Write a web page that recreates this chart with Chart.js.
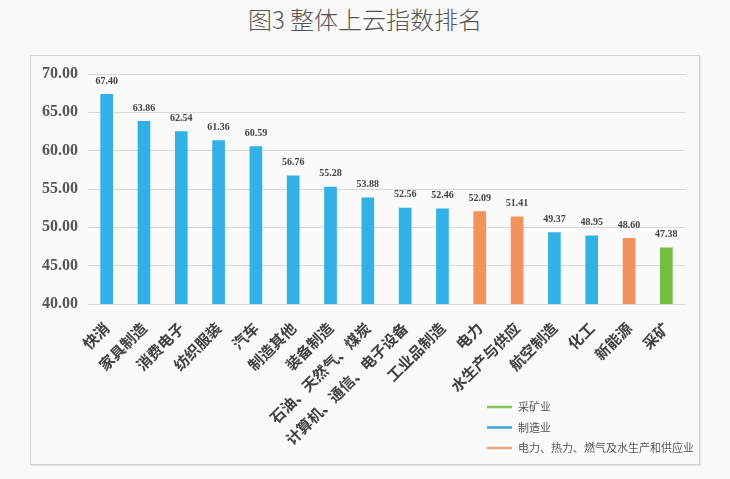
<!DOCTYPE html>
<html>
<head>
<meta charset="utf-8">
<script src="https://cdn.jsdelivr.net/npm/chart.js@4"></script>
<style>
  html, body { margin: 0; padding: 0; background: #f9f9f9; }
  body { width: 730px; height: 479px; position: relative; overflow: hidden; }
  #title {
    position: absolute; left: 0; top: 1px; width: 730px; text-align: center;
    font-family: "Noto Sans CJK SC", sans-serif; font-weight: 300; font-size: 24px; color: #555;
  }
  #box {
    position: absolute; left: 30px; top: 55px; width: 668px; height: 408px;
    border: 1px solid #d4d4d4; box-shadow: 1px 1px 0 #e4e4e4; background: #fafafa;
  }
  #chart { position: absolute; left: 0; top: 0; }
</style>
</head>
<body>
<div id="title">图3 整体上云指数排名</div>
<div id="box"></div>
<canvas id="chart" width="730" height="479"></canvas>
<script>
const ctx = document.getElementById('chart').getContext('2d');

// 数据
const categories = ['快消', '家具制造', '消费电子', '纺织服装', '汽车', '制造其他', '装备制造',
  '石油、天然气、煤炭', '计算机、通信、电子设备', '工业品制造', '电力', '水生产与供应',
  '航空制造', '化工', '新能源', '采矿'];
const values = [67.40, 63.86, 62.54, 61.36, 60.59, 56.76, 55.28, 53.88, 52.56, 52.46,
  52.09, 51.41, 49.37, 48.95, 48.60, 47.38];
// 0 = 采矿业, 1 = 制造业, 2 = 电力、热力...
const sectorOf = [1, 1, 1, 1, 1, 1, 1, 1, 1, 1, 2, 2, 1, 1, 2, 0];
const sectorNames = ['采矿业', '制造业', '电力、热力、燃气及水生产和供应业'];
const sectorColors = ['#72bf44', '#33b1e6', '#f4925e'];
const legendColors = ['#86c65a', '#3aa6d8', '#f0a27c'];
const yTicks = [40, 45, 50, 55, 60, 65, 70];

const datasets = sectorNames.map((name, s) => ({
  label: name,
  data: values.map((v, i) => sectorOf[i] === s ? v : null),
  backgroundColor: sectorColors[s],
  barPercentage: 0.34,
  categoryPercentage: 1.0
}));

// 柱顶数值
const valueLabels = {
  id: 'valueLabels',
  afterDatasetsDraw(chart) {
    const c = chart.ctx;
    c.save();
    c.font = 'bold 10px "Liberation Serif", serif';
    c.fillStyle = '#444';
    c.textAlign = 'center';
    c.textBaseline = 'bottom';
    chart.data.datasets.forEach((ds, di) => {
      chart.getDatasetMeta(di).data.forEach((bar, i) => {
        if (ds.data[i] == null) return;
        c.fillText(ds.data[i].toFixed(2), bar.x, bar.y - 8);
      });
    });
    c.restore();
  }
};

// 竖排图例
const lineLegend = {
  id: 'lineLegend',
  afterDraw(chart) {
    const c = chart.ctx;
    c.save();
    c.font = '11px "Noto Sans CJK SC", sans-serif';
    c.textBaseline = 'middle';
    sectorNames.forEach((name, s) => {
      const y = 407 + s * 20.5;
      c.strokeStyle = legendColors[s];
      c.lineWidth = 2.5;
      c.beginPath();
      c.moveTo(487, y);
      c.lineTo(512, y);
      c.stroke();
      c.fillStyle = '#555';
      c.fillText(name, 518, y);
    });
    c.restore();
  }
};

new Chart(ctx, {
  type: 'bar',
  data: { labels: categories, datasets: datasets },
  options: {
    responsive: false,
    animation: false,
    layout: { padding: { left: 30, right: 45, top: 74, bottom: 20 } },
    plugins: { legend: { display: false }, tooltip: { enabled: false } },
    scales: {
      x: {
        stacked: true,
        grid: { display: false },
        border: { display: false },
        afterFit(s) { s.height = 155; },
        ticks: {
          minRotation: 45,
          maxRotation: 45,
          autoSkip: false,
          padding: 7,
          color: '#404040',
          font: { family: '"Noto Sans CJK SC", sans-serif', weight: 'bold', size: 15 }
        }
      },
      y: {
        stacked: true,
        min: 40,
        max: 70,
        afterBuildTicks(s) { s.ticks = yTicks.map(v => ({ value: v })); },
        afterFit(s) { s.width = 58; },
        border: { display: false },
        grid: { color: '#d9d9d9', drawTicks: false, lineWidth: 1 },
        ticks: {
          padding: 10,
          color: '#555',
          font: { family: '"Liberation Serif", serif', weight: 'bold', size: 16 },
          callback: v => v.toFixed(2)
        }
      }
    }
  },
  plugins: [valueLabels, lineLegend]
});
</script>
</body>
</html>
